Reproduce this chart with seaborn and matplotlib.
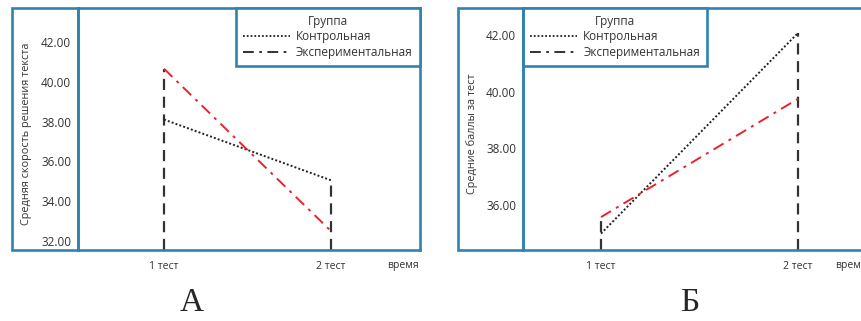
import seaborn as sns
import pandas as pd
import numpy as np
import matplotlib.pyplot as plt
from matplotlib.lines import Line2D
from matplotlib.patches import Rectangle
from matplotlib.transforms import blended_transform_factory

times = ["1 тест", "2 тест"]
groups = ["Контрольная", "Экспериментальная"]

# panel A: mean text solving speed
speed_control = [38.1, 35.05]
speed_exper = [40.65, 32.5]
# panel B: mean test scores
score_control = [35.0, 42.07]
score_exper = [35.58, 39.75]

yticks_a = [32, 34, 36, 38, 40, 42]
yticks_b = [36, 38, 40, 42]

BLUE = "#2f83b0"
RED = "#e8232b"
TXT = "#333333"


def make_df(control, exper):
    return pd.DataFrame({
        "time": times * 2,
        "group": [groups[0]] * 2 + [groups[1]] * 2,
        "value": control + exper,
    })


def panel(fig, rect, strip, df, ylim, xlim, yticks, ylabel, legend_loc, label_x, time_x):
    ax = fig.add_axes(rect)
    sns.lineplot(data=df, x="time", y="value", hue="group", style="group",
                 palette={groups[0]: "#222222", groups[1]: RED},
                 dashes={groups[0]: (1, 1.1), groups[1]: (6, 3, 1.5, 3)},
                 linewidth=1.4, legend=False, ax=ax)
    ax.set_ylim(*ylim)
    ax.set_xlim(*xlim)
    # dashed drop lines from the bottom up to the highest group value
    tops = df.groupby("time", sort=False)["value"].max()
    ax.vlines(list(tops.index), ylim[0], tops.values, colors=TXT,
              linestyles=(0, (5, 3)), linewidth=1.6, zorder=1)
    ax.set_yticks(yticks)
    ax.set_yticklabels([f"{v:.2f}" for v in yticks])
    ax.tick_params(axis="y", length=0, pad=5, labelsize=8.5, labelcolor=TXT)
    ax.tick_params(axis="x", length=0, pad=8, labelsize=7.5, labelcolor=TXT)
    ax.set_xlabel("")
    ax.set_ylabel(ylabel, fontsize=7.8, color=TXT)
    ax.yaxis.set_label_coords(label_x, 0.48)
    for s in ax.spines.values():
        s.set_visible(True)
        s.set_color(BLUE)
        s.set_linewidth(1.9)
    tr = blended_transform_factory(ax.transData, ax.transAxes)
    ax.text(time_x, -0.062, "время", transform=tr, fontsize=7.5, color=TXT,
            ha="center", va="center")
    handles = [Line2D([], [], color="#222222", lw=1.3, linestyle=(0, (1, 1.1))),
               Line2D([], [], color="#222222", lw=1.3, linestyle=(0, (6, 3, 1.5, 3)))]
    leg = ax.legend(handles, groups, title="Группа", loc=legend_loc,
                    bbox_to_anchor=(1, 1) if legend_loc == "upper right" else (0, 1),
                    borderaxespad=0, fancybox=False, fontsize=8.5, title_fontsize=8.5,
                    handlelength=4.0, handletextpad=0.5, labelspacing=0.2,
                    borderpad=0.6, framealpha=1)
    leg.get_frame().set_edgecolor(BLUE)
    leg.get_frame().set_linewidth(1.9)
    leg.get_title().set_color(TXT)
    for t in leg.get_texts():
        t.set_color(TXT)
    fig.add_artist(Rectangle((strip[0], rect[1]), strip[1], rect[3], transform=fig.transFigure,
                             fill=False, edgecolor=BLUE, linewidth=1.9))
    return ax


sns.set_theme(style="white")
plt.rcParams["font.family"] = ["Open Sans", "DejaVu Sans"]

W, H = 862, 321
fig = plt.figure(figsize=(W / 100, H / 100), dpi=100)

bottom = (H - 250) / H
height = 242 / H

panel(fig, [78 / W, bottom, 342 / W, height], (12 / W, 66 / W),
      make_df(speed_control, speed_exper), (31.55, 43.7), (-0.515, 1.533), yticks_a,
      "Средняя скорость решения текста", "upper right", -0.135, 1.43)
panel(fig, [523 / W, bottom, 357 / W, height], (458 / W, 65 / W),
      make_df(score_control, score_exper), (34.42, 42.95), (-0.396, 1.416), yticks_b,
      "Средние баллы за тест", "upper left", -0.125, 1.27)

fig.text(192 / W, 1 - 303 / H, "А", fontsize=24, family="Liberation Serif",
         ha="center", va="center")
fig.text(690 / W, 1 - 303 / H, "Б", fontsize=24, family="Liberation Serif",
         ha="center", va="center")

fig.savefig("out.png", dpi=100)
